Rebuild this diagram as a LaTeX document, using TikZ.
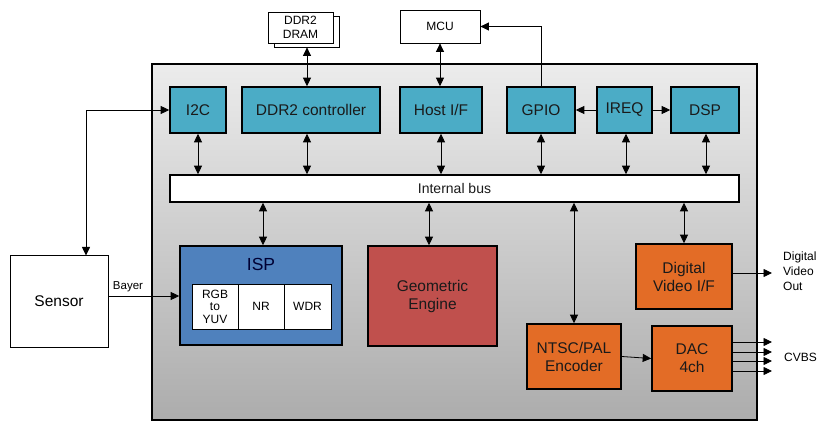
\documentclass[tikz,border=0pt]{standalone}
\usepackage{fontspec}
\setmainfont{Liberation Sans}
\usetikzlibrary{arrows.meta}
\definecolor{teal}{HTML}{4BACC6}
\definecolor{ispblue}{HTML}{4F81BD}
\definecolor{geored}{HTML}{C0504D}
\definecolor{orng}{HTML}{E36C26}
\definecolor{txt}{HTML}{1A1A1A}
\tikzset{
  box/.style={draw=black, line width=1.6pt, inner sep=0pt, align=center, text=txt, font=\fontsize{15.5}{18}\selectfont},
  tealbox/.style={box, fill=teal},
  orgbox/.style={box, fill=orng},
  whitebox/.style={draw=black, line width=0.8pt, fill=white, inner sep=0pt, align=center, font=\fontsize{12}{13.5}\selectfont},
  subbox/.style={draw=black, line width=0.6pt, fill=white, inner sep=0pt, align=center, font=\fontsize{12}{12.5}\selectfont},
  arr/.style={line width=0.8pt, -{Triangle[length=8.5pt,width=8pt]}},
  biarr/.style={line width=0.8pt, {Triangle[length=8.5pt,width=8pt]}-{Triangle[length=8.5pt,width=8pt]}},
  lbl/.style={inner sep=0pt, align=left, font=\fontsize{12}{15}\selectfont}
}
\begin{document}
\begin{tikzpicture}[x=1pt,y=-1pt]
\useasboundingbox (0,0) rectangle (833,422);
\fill[white] (0,0) rectangle (833,422);
% big chip
\shade[top color=gray!15, bottom color=gray!65, draw=black, line width=1.6pt] (152,64) rectangle (757,420);
% external
\node[whitebox, minimum width=65pt, minimum height=31pt] (dramb) at (306.5,31.5) {};
\node[whitebox, minimum width=65pt, minimum height=31pt] (dram) at (300.5,27.5) {DDR2\\DRAM};
\node[whitebox, minimum width=80pt, minimum height=33pt] (mcu) at (440,26.5) {MCU};
\node[whitebox, line width=1pt, minimum width=98pt, minimum height=91pt, font=\fontsize{15.5}{18}\selectfont] (sensor) at (59,301.5) {Sensor};
% top row
\node[tealbox, minimum width=56pt, minimum height=46pt] (i2c) at (198,110) {I2C};
\node[tealbox, minimum width=138pt, minimum height=46pt] (ddr) at (311,110) {DDR2 controller};
\node[tealbox, minimum width=82pt, minimum height=46pt] (host) at (441,110) {Host I/F};
\node[tealbox, minimum width=68pt, minimum height=46pt] (gpio) at (541,110) {GPIO};
\node[tealbox, minimum width=55pt, minimum height=46pt] (ireq) at (624.5,110) {IREQ};
\node[tealbox, minimum width=68pt, minimum height=46pt] (dsp) at (705,110) {DSP};
% bus
\node[box, fill=white, minimum width=569pt, minimum height=27pt, font=\fontsize{14}{16}\selectfont] (bus) at (454.5,188.5) {Internal bus};
% lower blocks
\node[box, fill=ispblue, minimum width=162pt, minimum height=99pt] (isp) at (261,295.5) {};
\node[inner sep=0pt, font=\fontsize{17.5}{20}\selectfont, text=black!80!blue] (isplbl) at (261,264) {ISP};
\node[subbox, minimum width=46pt, minimum height=45pt] (rgb) at (215,306.5) {RGB\\to\\YUV};
\node[subbox, minimum width=46pt, minimum height=45pt] (nr) at (261,306.5) {NR};
\node[subbox, minimum width=47pt, minimum height=45pt] (wdr) at (307.5,306.5) {WDR};
\node[box, fill=geored, minimum width=129pt, minimum height=100pt] (geo) at (432.5,296) {Geometric\\Engine};
\node[orgbox, minimum width=96pt, minimum height=65pt] (dvi) at (684,276.5) {Digital\\Video I/F};
\node[orgbox, minimum width=94pt, minimum height=65pt] (enc) at (574,356.5) {NTSC/PAL\\Encoder};
\node[orgbox, minimum width=80pt, minimum height=65pt] (dac) at (692,358.5) {DAC\\4ch};
% labels
\node[lbl, anchor=south, font=\fontsize{11.5}{13}\selectfont] (bayer) at (128,292) {Bayer};
\node[lbl, anchor=west] (dvo) at (783,271) {Digital\\Video\\Out};
\node[lbl, anchor=west] (cvbs) at (784,357) {CVBS};
% free ends
\coordinate (o1) at (772,273);
\coordinate (c1) at (772,342);
\coordinate (c2) at (772,352);
\coordinate (c3) at (772,361);
\coordinate (c4) at (772,371);
% connectors external
\draw[biarr] (dramb.south -| 307,0) -- (ddr.north -| 307,0);
\draw[biarr] (mcu.south) -- (host.north -| mcu.south);
\draw[arr] (gpio.north) |- (mcu.east);
\draw[biarr] (i2c.west) -| ([xshift=27pt]sensor.north);
\draw[arr] ([yshift=5.5pt]sensor.east) -- (isp.west |- 0,296);
% top row to bus
\draw[biarr] (i2c.south) -- (bus.north -| i2c.south);
\draw[biarr] (ddr.south -| 307,0) -- (bus.north -| 307,0);
\draw[biarr] (host.south) -- (bus.north -| host.south);
\draw[biarr] (gpio.south) -- (bus.north -| gpio.south);
\draw[biarr] (ireq.south -| 626,0) -- (bus.north -| 626,0);
\draw[biarr] (dsp.south -| 706,0) -- (bus.north -| 706,0);
\draw[arr] (ireq.west) -- (gpio.east);
\draw[arr] (ireq.east) -- (dsp.west);
% bus to lower
\draw[biarr] (bus.south -| 263,0) -- (isp.north -| 263,0);
\draw[biarr] (bus.south -| 429,0) -- (geo.north -| 429,0);
\draw[biarr] (bus.south -| enc.north) -- (enc.north);
\draw[biarr] (bus.south -| dvi.north) -- (dvi.north);
\draw[arr] (enc.east) -- (dac.west);
\draw[arr] (dvi.east |- o1) -- (o1);
\draw[arr] (dac.east |- c1) -- (c1);
\draw[arr] (dac.east |- c2) -- (c2);
\draw[arr] (dac.east |- c3) -- (c3);
\draw[arr] (dac.east |- c4) -- (c4);
\end{tikzpicture}
\end{document}
